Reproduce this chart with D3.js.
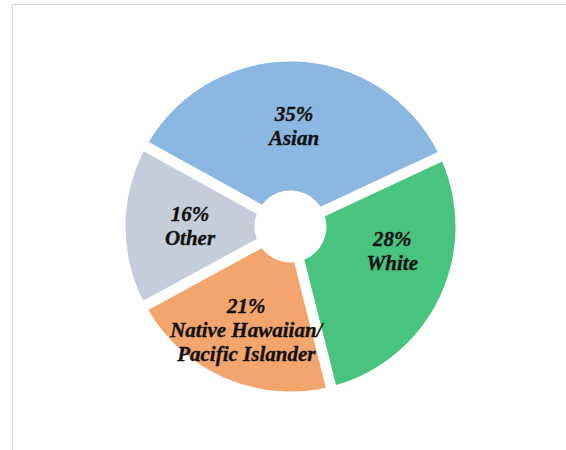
<!DOCTYPE html>
<html>
<head>
<meta charset="utf-8">
<script src="https://cdn.jsdelivr.net/npm/d3@7/dist/d3.min.js"></script>
<style>
  html, body { margin: 0; padding: 0; background: #ffffff; }
  svg { display: block; }
</style>
</head>
<body>
<svg id="chart" width="566" height="450"></svg>
<script>
// Share of students by race/ethnicity
const categories = ["Asian", "White", "Native Hawaiian/\nPacific Islander", "Other"];
const percents = [35, 28, 21, 16];
const colors = ["#8BB7E1", "#49C480", "#F3A56E", "#C5CDDA"];

const W = 566, H = 450;
const cx = 290.5, cy = 226.5;
const outerR = 165, innerR = 36;
const gap = 10.5;                       // constant width of the white gaps between slices
const firstAngle = -61 * Math.PI / 180; // where the first slice starts, clockwise from 12 o'clock

const svg = d3.select("#chart");

// light frame along the top and left edges
svg.append("rect")
  .attr("x", 12.5).attr("y", 4.5)
  .attr("width", W + 40).attr("height", H + 40)
  .attr("fill", "none")
  .attr("stroke", "#D9D9D9")
  .attr("stroke-width", 1.3);

const data = categories.map((c, i) => ({ name: c, value: percents[i], color: colors[i] }));

const pie = d3.pie()
  .sort(null)
  .value(d => d.value)
  .startAngle(firstAngle)
  .endAngle(firstAngle + 2 * Math.PI);

const arc = d3.arc()
  .innerRadius(innerR)
  .outerRadius(outerR)
  .padRadius(outerR)
  .padAngle(gap / outerR);

const labelArc = d3.arc()
  .innerRadius(innerR)
  .outerRadius(outerR);

const g = svg.append("g").attr("transform", `translate(${cx},${cy})`);

const arcs = pie(data);

g.selectAll("path.slice")
  .data(arcs)
  .join("path")
  .attr("class", "slice")
  .attr("d", arc)
  .attr("fill", d => d.data.color);

// label nudges (pixels) for the blocks that sit off the ring centre
const nudge = { "White": [11, -18], "Native Hawaiian/\nPacific Islander": [-4, 12] };

const fontSize = 21, lineH = 24, capHalf = 6.8;

g.selectAll("text.lbl")
  .data(arcs)
  .join("text")
  .attr("class", "lbl")
  .attr("text-anchor", "middle")
  .attr("font-family", "'Liberation Serif', 'Times New Roman', serif")
  .attr("font-weight", "bold")
  .attr("font-style", "italic")
  .attr("font-size", fontSize)
  .attr("fill", "#111111")
  .attr("stroke", "#111111")
  .attr("stroke-width", 0.35)
  .each(function(d) {
    const [x0, y0] = labelArc.centroid(d);
    const off = nudge[d.data.name] || [0, 0];
    const x = x0 + off[0], y = y0 + off[1];
    const lines = [d.data.value + "%"].concat(d.data.name.split("\n"));
    const first = y - (lines.length - 1) * lineH / 2 + capHalf;
    const t = d3.select(this);
    lines.forEach((ln, i) => {
      t.append("tspan")
        .attr("x", x)
        .attr("y", first + i * lineH)
        .text(ln);
    });
  });
</script>
</body>
</html>
